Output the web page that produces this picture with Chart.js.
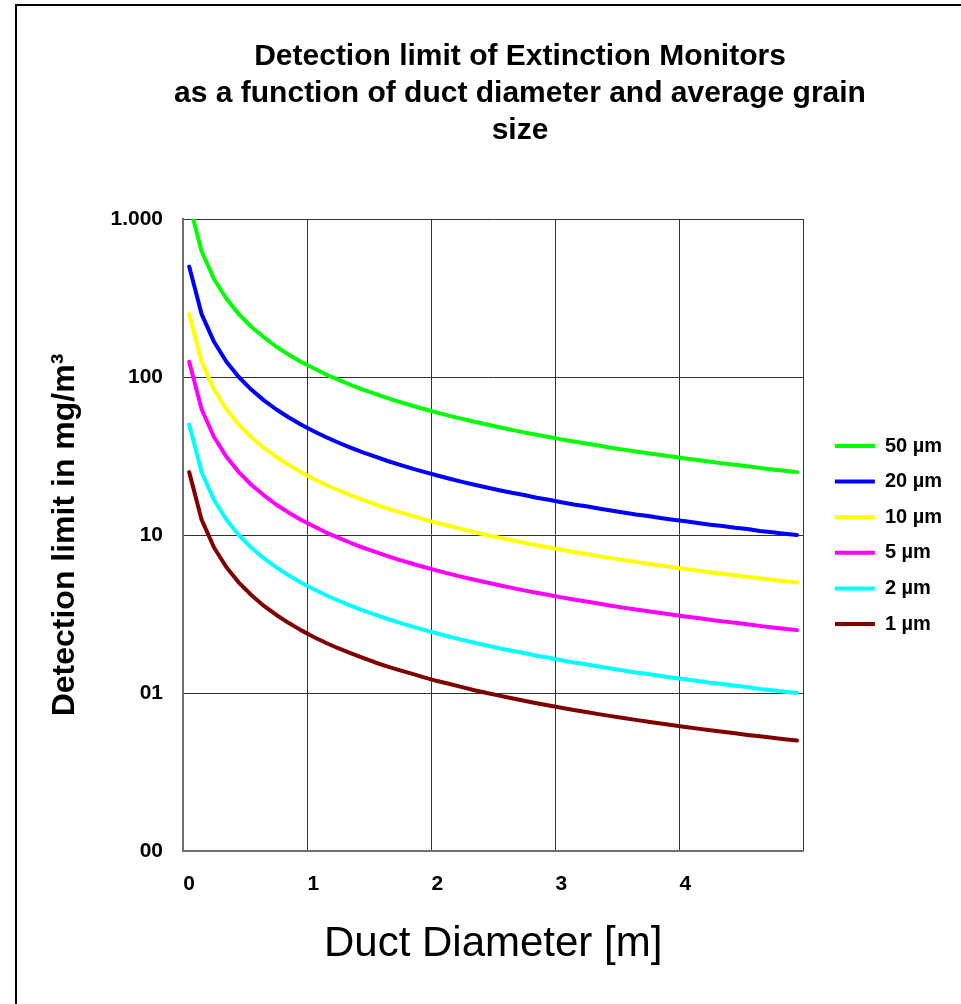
<!DOCTYPE html>
<html>
<head>
<meta charset="utf-8">
<title>Detection limit of Extinction Monitors</title>
<script src="https://cdn.jsdelivr.net/npm/chart.js@4.4.1/dist/chart.umd.min.js"></script>
<style>
  html, body { margin: 0; padding: 0; background: #fff; }
  canvas { display: block; }
</style>
</head>
<body>
<canvas id="grafica" width="961" height="1004"></canvas>
<script>
// Duct diameter in m (one category every 0.1 m)
const diameters = [
  0.1, 0.2, 0.3, 0.4, 0.5, 0.6, 0.7, 0.8, 0.9, 1.0,
  1.1, 1.2, 1.3, 1.4, 1.5, 1.6, 1.7, 1.8, 1.9, 2.0,
  2.1, 2.2, 2.3, 2.4, 2.5, 2.6, 2.7, 2.8, 2.9, 3.0,
  3.1, 3.2, 3.3, 3.4, 3.5, 3.6, 3.7, 3.8, 3.9, 4.0,
  4.1, 4.2, 4.3, 4.4, 4.5, 4.6, 4.7, 4.8, 4.9, 5.0
];
const xTickLabels = ["0", "1", "2", "3", "4"];
const yTickValues = [0.1, 1, 10, 100, 1000];
const yTickLabels = ["00", "01", "10", "100", "1.000"];
const titleLines = [
  "Detection limit of Extinction Monitors",
  "as a function of duct diameter and average grain",
  "size"
];
const grainSizes = ["50 µm", "20 µm", "10 µm", "5 µm", "2 µm", "1 µm"];

// Detection limit in mg/m³
const limit50 = [
  1250, 625, 417, 313, 250, 208, 179, 156, 139, 125,
  114, 104, 96.2, 89.3, 83.3, 78.1, 73.5, 69.4, 65.8, 62.5,
  59.5, 56.8, 54.3, 52.1, 50.0, 48.1, 46.3, 44.6, 43.1, 41.7,
  40.3, 39.1, 37.9, 36.8, 35.7, 34.7, 33.8, 32.9, 32.1, 31.3,
  30.5, 29.8, 29.1, 28.4, 27.8, 27.2, 26.6, 26.0, 25.5, 25.0
];
const limit20 = [
  500, 250, 167, 125, 100, 83.3, 71.4, 62.5, 55.6, 50.0,
  45.5, 41.7, 38.5, 35.7, 33.3, 31.3, 29.4, 27.8, 26.3, 25.0,
  23.8, 22.7, 21.7, 20.8, 20.0, 19.2, 18.5, 17.9, 17.2, 16.7,
  16.1, 15.6, 15.2, 14.7, 14.3, 13.9, 13.5, 13.2, 12.8, 12.5,
  12.2, 11.9, 11.6, 11.4, 11.1, 10.9, 10.6, 10.4, 10.2, 10.0
];
const limit10 = [
  250, 125, 83.3, 62.5, 50.0, 41.7, 35.7, 31.3, 27.8, 25.0,
  22.7, 20.8, 19.2, 17.9, 16.7, 15.6, 14.7, 13.9, 13.2, 12.5,
  11.9, 11.4, 10.9, 10.4, 10.0, 9.62, 9.26, 8.93, 8.62, 8.33,
  8.06, 7.81, 7.58, 7.35, 7.14, 6.94, 6.76, 6.58, 6.41, 6.25,
  6.10, 5.95, 5.81, 5.68, 5.56, 5.43, 5.32, 5.21, 5.10, 5.00
];
const limit5 = [
  125, 62.5, 41.7, 31.3, 25.0, 20.8, 17.9, 15.6, 13.9, 12.5,
  11.4, 10.4, 9.62, 8.93, 8.33, 7.81, 7.35, 6.94, 6.58, 6.25,
  5.95, 5.68, 5.43, 5.21, 5.00, 4.81, 4.63, 4.46, 4.31, 4.17,
  4.03, 3.91, 3.79, 3.68, 3.57, 3.47, 3.38, 3.29, 3.21, 3.13,
  3.05, 2.98, 2.91, 2.84, 2.78, 2.72, 2.66, 2.60, 2.55, 2.50
];
const limit2 = [
  50.0, 25.0, 16.7, 12.5, 10.0, 8.33, 7.14, 6.25, 5.56, 5.00,
  4.55, 4.17, 3.85, 3.57, 3.33, 3.13, 2.94, 2.78, 2.63, 2.50,
  2.38, 2.27, 2.17, 2.08, 2.00, 1.92, 1.85, 1.79, 1.72, 1.67,
  1.61, 1.56, 1.52, 1.47, 1.43, 1.39, 1.35, 1.32, 1.28, 1.25,
  1.22, 1.19, 1.16, 1.14, 1.11, 1.09, 1.06, 1.04, 1.02, 1.00
];
const limit1 = [
  25.0, 12.5, 8.33, 6.25, 5.00, 4.17, 3.57, 3.13, 2.78, 2.50,
  2.27, 2.08, 1.92, 1.79, 1.67, 1.56, 1.47, 1.39, 1.32, 1.25,
  1.19, 1.14, 1.09, 1.04, 1.00, 0.962, 0.926, 0.893, 0.862, 0.833,
  0.806, 0.781, 0.758, 0.735, 0.714, 0.694, 0.676, 0.658, 0.641, 0.625,
  0.610, 0.595, 0.581, 0.568, 0.556, 0.543, 0.532, 0.521, 0.510, 0.500
];

Chart.defaults.font.family = "'Liberation Sans', Arial, sans-serif";
Chart.defaults.color = "#000";

const gridColor = "#333";

// marco exterior del gráfico
const marco = {
  id: "marco",
  beforeDraw(chart) {
    const { ctx, width, height } = chart;
    ctx.save();
    ctx.strokeStyle = "#000";
    ctx.lineWidth = 2;
    ctx.beginPath();
    ctx.moveTo(16, height);
    ctx.lineTo(16, 5);
    ctx.lineTo(width, 5);
    ctx.stroke();
    ctx.restore();
  },
};

// título en tres líneas
const titulo = {
  id: "titulo",
  afterDraw(chart) {
    const { ctx } = chart;
    ctx.save();
    ctx.font = "bold 30px 'Liberation Sans', Arial, sans-serif";
    ctx.fillStyle = "#000";
    ctx.textAlign = "center";
    ctx.textBaseline = "middle";
    titleLines.forEach((line, i) => ctx.fillText(line, 520, 57 + i * 37));
    ctx.restore();
  },
};

const series = [limit50, limit20, limit10, limit5, limit2, limit1];
const colores = ["#00ff00", "#0000ff", "#ffff00", "#ff00ff", "#00ffff", "#800000"];

new Chart(document.getElementById("grafica"), {
  type: "line",
  data: {
    labels: diameters,
    datasets: series.map((data, i) => ({
      label: grainSizes[i],
      data,
      borderColor: colores[i],
      backgroundColor: colores[i],
      borderWidth: 4,
      borderCapStyle: "round",
      borderJoinStyle: "round",
      pointRadius: 0,
      tension: 0,
      clip: 0,
    })),
  },
  options: {
    responsive: false,
    animation: false,
    layout: { padding: { top: 219, left: 18, right: 9, bottom: 0 } },
    plugins: {
      title: { display: false },
      tooltip: { enabled: false },
      legend: {
        position: "right",
        fullSize: false,
        labels: {
          usePointStyle: true,
          pointStyle: "line",
          pointStyleWidth: 40,
          padding: 15.6,
          font: { size: 20, weight: "bold" },
          color: "#000",
        },
      },
    },
    scales: {
      x: {
        type: "category",
        offset: true,
        grid: {
          offset: true,
          drawTicks: false,
          color: (c) => (c.tick === undefined || c.index % 10 === 0 ? gridColor : "rgba(0,0,0,0)"),
        },
        border: { color: "#6e6e6e", width: 2 },
        ticks: {
          autoSkip: false,
          maxRotation: 0,
          padding: 21,
          font: { size: 21, weight: "bold" },
          callback: (val, i) => (i % 10 === 0 ? xTickLabels[i / 10] : ""),
        },
        title: {
          display: true,
          text: "Duct Diameter [m]",
          font: { size: 42 },
          padding: { top: 20, bottom: 34 },
        },
        afterFit: (s) => { s.height = 153; },
      },
      y: {
        type: "logarithmic",
        min: 0.1,
        max: 1000,
        grid: { color: gridColor, drawTicks: false },
        border: { color: "#6e6e6e", width: 2 },
        afterBuildTicks: (s) => { s.ticks = yTickValues.map((v) => ({ value: v })); },
        ticks: {
          padding: 20,
          font: { size: 21, weight: "bold" },
          callback: (val) => yTickLabels[yTickValues.indexOf(val)],
        },
        title: {
          display: true,
          text: "Detection limit in mg/m³",
          font: { size: 32, weight: "bold" },
          padding: { top: 28, bottom: 10 },
        },
        afterFit: (s) => { s.width = 165; },
      },
      // separación entre el área del gráfico y la leyenda
      hueco: {
        type: "linear",
        position: "right",
        grid: { display: false },
        border: { display: false },
        ticks: { display: false },
        afterFit: (s) => { s.width = 16; },
      },
    },
  },
  plugins: [marco, titulo],
});
</script>
</body>
</html>
